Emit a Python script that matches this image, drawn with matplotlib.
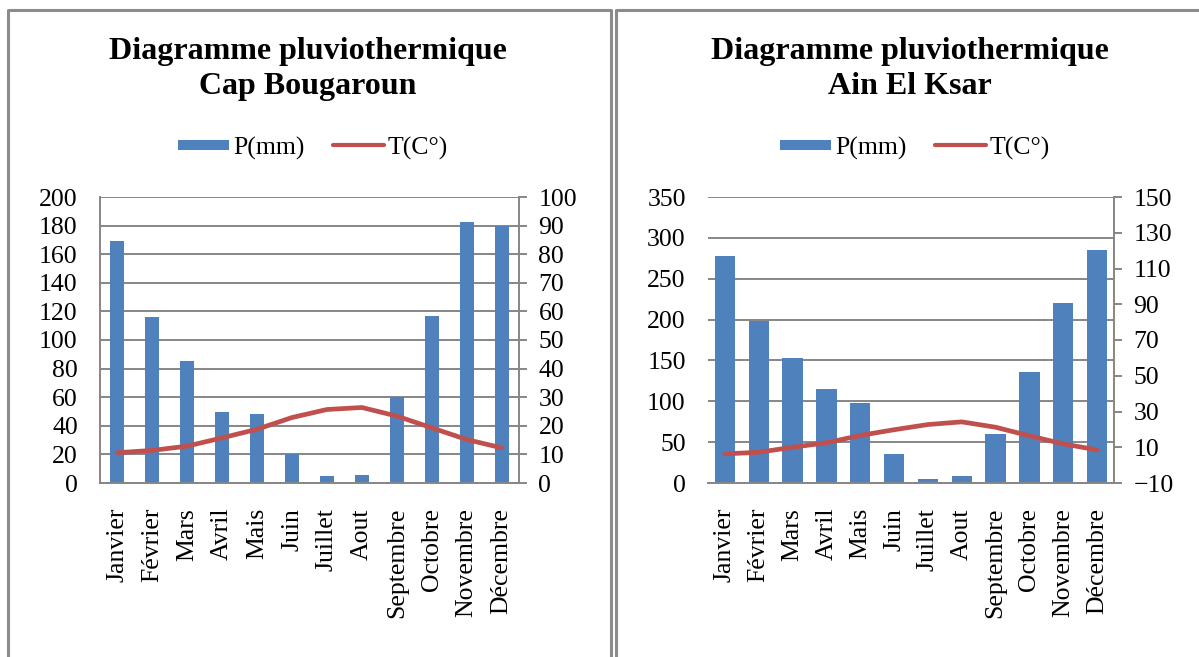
import matplotlib
matplotlib.use("Agg")
import matplotlib.pyplot as plt
from matplotlib.lines import Line2D
import numpy as np

plt.rcParams['font.family'] = ['Liberation Serif', 'DejaVu Serif']

months = ["Janvier", "Février", "Mars", "Avril", "Mais", "Juin", "Juillet",
          "Aout", "Septembre", "Octobre", "Novembre", "Décembre"]

# Cap Bougaroun
p_cap = [169, 116, 85, 50, 48, 20, 5, 5.5, 60, 116.5, 182.5, 179.5]
t_cap = [10.6, 11.4, 12.9, 15.8, 18.8, 22.9, 25.7, 26.4, 23.4, 19.3, 15.2, 12.3]

# Ain El Ksar
p_ain = [278, 198, 153, 115, 97.5, 36, 5.5, 9, 60.5, 135.5, 220, 285]
t_ain = [6.3, 7.2, 10.0, 12.5, 16.6, 19.8, 22.7, 24.2, 21.2, 16.4, 11.9, 8.5]

W, H = 1199, 657
BLUE = "#4F81BD"
RED = "#C0504D"
GRID = "#868686"
FRAME = "#8C8C8C"
FS = 18.5

fig = plt.figure(figsize=(W / 100, H / 100), dpi=100)


def px_box(x0, y0, x1, y1):
    return [x0 / W, 1 - y1 / H, (x1 - x0) / W, (y1 - y0) / H]


def panel(rect, precip, temp, pmax, pstep, tmin, tmax, tstep, bar_w,
          title, title_x, legend_x, left_spine):
    ax = fig.add_axes(px_box(*rect))
    x = np.arange(len(months))
    ax.bar(x, precip, width=bar_w, color=BLUE, zorder=2)
    ax.set_xlim(-0.5, len(months) - 0.5)
    ax.set_ylim(0, pmax)
    ax.set_yticks(np.arange(0, pmax + 1, pstep))
    ax.set_axisbelow(True)
    ax.yaxis.grid(True, color=GRID, lw=1.4)
    ax.set_xticks(x)
    ax.set_xticklabels(months, rotation=90, ha="center", va="top", fontsize=FS)
    ax.tick_params(axis="x", length=0, pad=18)
    ax.tick_params(axis="y", length=0, pad=16, labelsize=FS)
    for s in ("top", "right"):
        ax.spines[s].set_visible(False)
    ax.spines["left"].set_visible(left_spine)
    ax.spines["left"].set_color(GRID)
    ax.spines["left"].set_linewidth(1.4)
    ax.spines["bottom"].set_color(GRID)
    ax.spines["bottom"].set_linewidth(1.4)

    ax2 = ax.twinx()
    ax2.plot(x, temp, color=RED, lw=3.4, solid_capstyle="round",
             solid_joinstyle="round", zorder=3)
    ax2.set_ylim(tmin, tmax)
    ax2.set_yticks(np.arange(tmin, tmax + 1, tstep))
    ax2.tick_params(axis="y", direction="out", length=6, width=1.4,
                    color=GRID, pad=8, labelsize=FS)
    for s in ("top", "left", "bottom"):
        ax2.spines[s].set_visible(False)
    ax2.spines["right"].set_color(GRID)
    ax2.spines["right"].set_linewidth(1.4)

    fig.text(title_x / W, 1 - 69 / H, title, ha="center", va="center",
             fontsize=23, fontweight="bold", linespacing=1.3)

    handles = [Line2D([], [], color=BLUE, lw=7.2, solid_capstyle="butt"),
               Line2D([], [], color=RED, lw=3.0, solid_capstyle="round")]
    fig.legend(handles, ["P(mm)", "T(C°)"], loc="center", ncol=2,
               bbox_to_anchor=(legend_x / W, 1 - 148 / H), frameon=False,
               fontsize=FS, handlelength=2.0, handletextpad=0.15,
               columnspacing=1.1, borderpad=0)
    return ax, ax2


panel((100, 197, 519, 483), p_cap, t_cap, 200, 20, 0, 100, 10, 0.4,
      "Diagramme pluviothermique\nCap Bougaroun", 308, 313, True)
panel((708, 197, 1114, 483), p_ain, t_ain, 350, 50, -10, 150, 20, 0.6,
      "Diagramme pluviothermique\nAin El Ksar", 910, 915, False)

# panel frames
frame_lw = 2.2
for xs, ys in [((8, 8, 611, 611), (H + 5, 10, 10, H + 5)),
               ((616, 616, W + 5), (H + 5, 10, 10))]:
    fig.add_artist(Line2D([v / W for v in xs], [1 - v / H for v in ys],
                          color=FRAME, lw=frame_lw,
                          transform=fig.transFigure))

fig.savefig("out.png", dpi=100)
